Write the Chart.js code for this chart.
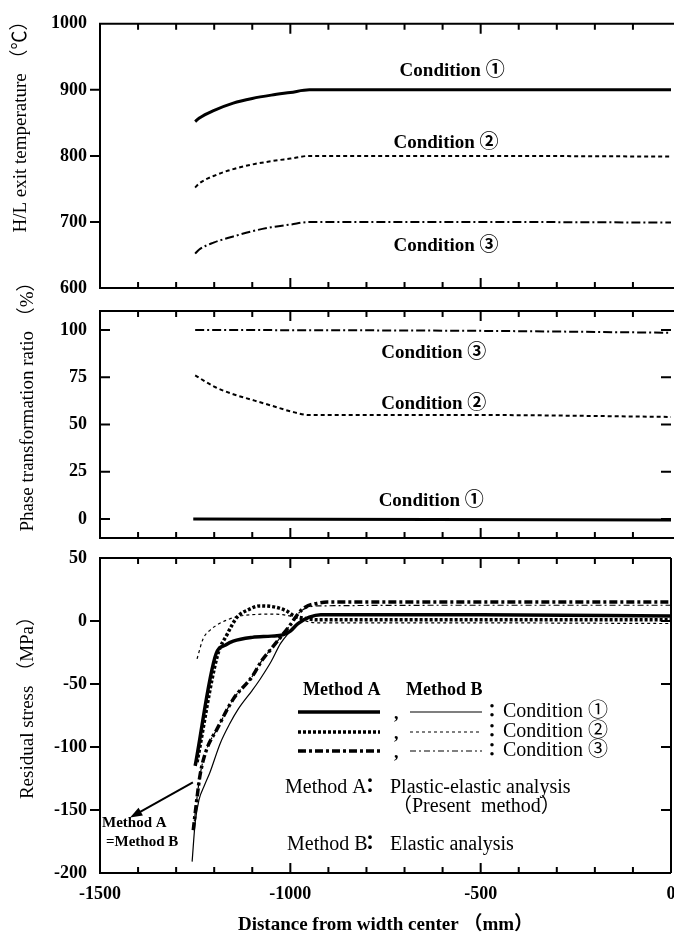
<!DOCTYPE html>
<html>
<head>
<meta charset="utf-8">
<script src="https://cdn.jsdelivr.net/npm/chart.js@4.4.1/dist/chart.umd.min.js"></script>
<style>
html, body { margin: 0; padding: 0; background: #fff; }
#wrap { position: relative; width: 674px; height: 940px; }
#wrap canvas { position: absolute; left: 0; top: 0; }
</style>
</head>
<body>
<div id="wrap">
<canvas id="graficaTemp" width="674" height="940"></canvas>
<canvas id="graficaFase" width="674" height="940"></canvas>
<canvas id="graficaTension" width="674" height="940"></canvas>
</div>
<script>
// ===============================
// DATOS
// ===============================

const xTickLabels = [-1500, -1000, -500, 0];

// H/L exit temperature
const tempTicks = [600, 700, 800, 900, 1000];
const tempX = [-1250, -1240, -1200, -1150, -1100, -1050, -1000, -950, -500, 0];
const tempCond1 = [852, 857, 869, 880, 887, 892, 896, 900, 900, 900];
const tempCond2 = [752, 758, 770, 780, 787, 792, 796, 800, 800, 799];
const tempCond3 = [652, 658, 669, 678, 686, 692, 696, 700, 700, 699];

// Phase transformation ratio
const faseTicks = [0, 25, 50, 75, 100];
const faseX1 = [-1255, 0];
const faseCond1 = [0, -0.5];
const faseX2 = [-1250, -1200, -1150, -1100, -1050, -1000, -950, -500, 0];
const faseCond2 = [76, 70, 66, 63, 60, 57, 55, 55, 54];
const faseX3 = [-1250, -500, 0];
const faseCond3 = [100, 99.5, 98.5];

// Residual stress
const tensionTicks = [-200, -150, -100, -50, 0, 50];
const aCond1X = [-1250, -1195, -1170, -1150, -1100, -1050, -1020, -1000, -980, -950, -920, -500, 0];
const aCond1 = [-115, -26, -19, -16, -13, -12, -11, -8, -2, 3, 5, 5, 4];
const aCond2X = [-1245, -1192, -1165, -1140, -1110, -1080, -1040, -1010, -990, -960, -930, -500, 0];
const aCond2 = [-112, -28, -10, 3, 9, 12, 11, 8, 4, 2, 1, 1, 1];
const aCond3X = [-1255, -1245, -1237, -1220, -1193, -1150, -1100, -1074, -1050, -1026, -1000, -979, -961, -930, -903, -500, 0];
const aCond3 = [-166, -140, -122, -102, -86, -62, -44, -31, -22, -13, -3, 6, 11, 14, 15, 15, 15];
const bCond1X = [-1258, -1250, -1240, -1225, -1211, -1184, -1160, -1137, -1100, -1079, -1050, -1026, -1000, -982, -955, -920, -500, 0];
const bCond1 = [-191, -160, -142, -130, -120, -97, -82, -70, -55, -46, -32, -18, -8, -2, 3, 5, 5, 4];
const bCond2X = [-1245, -1229, -1210, -1192, -1165, -1140, -1100, -1050, -1020, -990, -960, -930, -500, 0];
const bCond2 = [-30, -14, -7, -3, 1, 3.5, 5, 5.5, 5, 3, 0, -1.5, -1.5, -2];
const bCond3X = [-1255, -1245, -1237, -1220, -1193, -1150, -1100, -1074, -1050, -1026, -1000, -979, -960, -930, -500, 0];
const bCond3 = [-166, -140, -122, -102, -86, -62, -44, -31, -22, -13, -3, 6, 10, 12, 12.5, 12.5];


// ===============================
// ESTILOS
// ===============================

const SERIF = "'Liberation Serif', 'Noto Sans CJK JP', serif";

Chart.defaults.font.family = SERIF;
Chart.defaults.color = "#000";

function linea(xs, ys, estilo) {

    return Object.assign({
        data: xs.map((x, i) => ({ x: x, y: ys[i] })),
        borderColor: "#000",
        pointRadius: 0,
        fill: false,
        cubicInterpolationMode: "monotone"
    }, estilo);

}

const SOLIDA = { borderWidth: 3 };
const PUNTOS = { borderWidth: 2, borderDash: [4, 3] };
const RAYAPUNTO = { borderWidth: 2, borderDash: [9, 3, 2, 3] };

const A_SOLIDA = { borderWidth: 3.5 };
const A_PUNTOS = { borderWidth: 3.5, borderDash: [3, 2] };
const A_RAYAPUNTO = { borderWidth: 3.5, borderDash: [8, 3, 3, 3] };
const B_SOLIDA = { borderWidth: 1.2 };
const B_PUNTOS = { borderWidth: 1.2, borderDash: [3, 3] };
const B_RAYAPUNTO = { borderWidth: 1.2, borderDash: [6, 3, 2, 3] };


// ===============================
// PLUGIN: MARCO, TICKS Y TEXTOS
// ===============================

const marcoPlugin = {

    id: "marco",

    afterDraw(chart, args, opts) {

        const { ctx, chartArea: a, scales } = chart;
        const x = scales.x, y = scales.y;

        ctx.save();
        ctx.strokeStyle = "#000";
        ctx.fillStyle = "#000";
        ctx.lineWidth = 2;
        ctx.setLineDash([]);

        // marco
        const derecha = opts.borde ? a.right : chart.width;
        ctx.beginPath();
        ctx.moveTo(derecha, a.top);
        ctx.lineTo(a.left, a.top);
        ctx.lineTo(a.left, a.bottom);
        ctx.lineTo(derecha, a.bottom);
        if (opts.borde) {
            ctx.moveTo(a.right, a.top);
            ctx.lineTo(a.right, a.bottom);
        }

        // ticks del eje x (hacia dentro)
        for (let v = -1400; v < 0; v += 100) {
            const px = x.getPixelForValue(v);
            const largo = v % 500 === 0 ? 10 : 6;
            ctx.moveTo(px, a.top);
            ctx.lineTo(px, a.top + largo);
            ctx.moveTo(px, a.bottom);
            ctx.lineTo(px, a.bottom - largo);
        }

        // ticks del eje y
        y.ticks.forEach(t => {
            const py = y.getPixelForValue(t.value);
            if (py <= a.top + 1 || py >= a.bottom - 1) return;
            const dir = opts.fuera ? -1 : 1;
            ctx.moveTo(a.left, py);
            ctx.lineTo(a.left + dir * 10, py);
            if (opts.ticksDerecha) {
                ctx.moveTo(a.right, py);
                ctx.lineTo(a.right - 10, py);
            }
        });
        ctx.stroke();

        // titulo del eje y
        ctx.save();
        ctx.translate(opts.tituloY.px, opts.tituloY.py);
        ctx.rotate(-Math.PI / 2);
        ctx.font = "19px " + SERIF;
        ctx.textAlign = "center";
        ctx.textBaseline = "middle";
        ctx.fillText(opts.tituloY.texto, 0, 0);
        ctx.restore();

        // etiquetas de condiciones
        ctx.font = "bold 19px " + SERIF;
        ctx.textAlign = "center";
        ctx.textBaseline = "middle";
        (opts.textos || []).forEach(t => {
            ctx.fillText(t.texto, x.getPixelForValue(t.x), y.getPixelForValue(t.y));
        });

        if (opts.leyenda) dibujarLeyenda(chart);

        ctx.restore();

    }

};


function dibujarLeyenda(chart) {

    const ctx = chart.ctx;
    const ds = chart.data.datasets;
    const x = chart.scales.x, y = chart.scales.y;

    ctx.textBaseline = "middle";
    ctx.textAlign = "left";
    ctx.font = "bold 18px " + SERIF;
    ctx.fillText("Method A", 303, 690);
    ctx.fillText("Method B", 406, 690);

    const filas = [712, 732, 751];
    const nombres = ["Condition ①", "Condition ②", "Condition ③"];

    filas.forEach((fy, i) => {

        [[ds[i], 298, 380], [ds[i + 3], 410, 482]].forEach(([d, x0, x1]) => {
            ctx.beginPath();
            ctx.lineWidth = d.borderWidth;
            ctx.setLineDash(d.borderDash || []);
            ctx.moveTo(x0, fy);
            ctx.lineTo(x1, fy);
            ctx.stroke();
        });

        ctx.setLineDash([]);
        ctx.font = "bold 18px " + SERIF;
        ctx.fillText(",", 394, fy + 2);
        ctx.fillText("：", 483, fy);
        ctx.font = "20px " + SERIF;
        ctx.fillText(nombres[i], 503, fy);

    });

    ctx.font = "20px " + SERIF;
    ctx.fillText("Method A", 285, 788);
    ctx.fillText("Plastic-elastic analysis", 390, 788);
    ctx.fillText("（Present  method）", 392, 807);
    ctx.fillText("Method B", 287, 845);
    ctx.fillText("Elastic analysis", 390, 845);
    ctx.font = "bold 20px " + SERIF;
    ctx.fillText("：", 360, 788);
    ctx.fillText("：", 360, 845);

    // flecha Method A = Method B
    const x0 = x.getPixelForValue(-1256), y0 = y.getPixelForValue(-128);
    const x1 = x.getPixelForValue(-1421), y1 = y.getPixelForValue(-156);
    const ang = Math.atan2(y1 - y0, x1 - x0);
    ctx.lineWidth = 2;
    ctx.beginPath();
    ctx.moveTo(x0, y0);
    ctx.lineTo(x1 - 8 * Math.cos(ang), y1 - 8 * Math.sin(ang));
    ctx.stroke();
    ctx.beginPath();
    ctx.moveTo(x1, y1);
    ctx.lineTo(x1 - 13 * Math.cos(ang - 0.35), y1 - 13 * Math.sin(ang - 0.35));
    ctx.lineTo(x1 - 13 * Math.cos(ang + 0.35), y1 - 13 * Math.sin(ang + 0.35));
    ctx.closePath();
    ctx.fill();

    ctx.font = "bold 15px " + SERIF;
    ctx.fillText("Method A", 102, 823);
    ctx.fillText("=Method B", 106, 842);

}


// ===============================
// OPCIONES COMUNES
// ===============================

function ejeY(min, max, ticks) {

    return {
        min: min,
        max: max,
        afterFit: s => { s.width = 100; },
        afterBuildTicks: s => { s.ticks = ticks.map(v => ({ value: v })); },
        grid: { display: false, drawTicks: false },
        border: { display: false },
        ticks: {
            font: { size: 18, weight: "bold" },
            padding: 13,
            callback: v => String(v)
        }
    };

}

function ejeXOculto() {

    return { type: "linear", min: -1500, max: 0, display: false };

}

const basicas = {
    responsive: false,
    animation: false,
    events: [],
    plugins: { legend: { display: false }, tooltip: { enabled: false } }
};


// ===============================
// GRÁFICA DE TEMPERATURA
// ===============================

new Chart(document.getElementById("graficaTemp"), {

    type: "line",

    data: {
        datasets: [
            linea(tempX, tempCond1, SOLIDA),
            linea(tempX, tempCond2, PUNTOS),
            linea(tempX, tempCond3, RAYAPUNTO)
        ]
    },

    options: Object.assign({}, basicas, {
        layout: { padding: { top: 14, bottom: 652, left: 0, right: 3 } },
        scales: {
            x: ejeXOculto(),
            y: ejeY(600, 1000, tempTicks)
        },
        plugins: Object.assign({}, basicas.plugins, {
            marco: {
                borde: false,
                fuera: true,
                ticksDerecha: false,
                tituloY: { texto: "H/L exit temperature （℃）", px: 21, py: 122 },
                textos: [
                    { texto: "Condition ①", x: -575, y: 928 },
                    { texto: "Condition ②", x: -591, y: 819 },
                    { texto: "Condition ③", x: -591, y: 663 }
                ]
            }
        })
    }),

    plugins: [marcoPlugin]

});


// ===============================
// GRÁFICA DE TRANSFORMACIÓN DE FASE
// ===============================

new Chart(document.getElementById("graficaFase"), {

    type: "line",

    data: {
        datasets: [
            linea(faseX1, faseCond1, SOLIDA),
            linea(faseX2, faseCond2, PUNTOS),
            linea(faseX3, faseCond3, RAYAPUNTO)
        ]
    },

    options: Object.assign({}, basicas, {
        layout: { padding: { top: 311, bottom: 402, left: 0, right: 3 } },
        scales: {
            x: ejeXOculto(),
            y: ejeY(-10, 110, faseTicks)
        },
        plugins: Object.assign({}, basicas.plugins, {
            marco: {
                borde: false,
                fuera: false,
                ticksDerecha: true,
                tituloY: { texto: "Phase transformation ratio （%）", px: 28, py: 402 },
                textos: [
                    { texto: "Condition ③", x: -623, y: 88 },
                    { texto: "Condition ②", x: -623, y: 61 },
                    { texto: "Condition ①", x: -630, y: 9.5 }
                ]
            }
        })
    }),

    plugins: [marcoPlugin]

});


// ===============================
// GRÁFICA DE TENSIÓN RESIDUAL
// ===============================

new Chart(document.getElementById("graficaTension"), {

    type: "line",

    data: {
        datasets: [
            linea(aCond1X, aCond1, A_SOLIDA),
            linea(aCond2X, aCond2, A_PUNTOS),
            linea(aCond3X, aCond3, A_RAYAPUNTO),
            linea(bCond1X, bCond1, B_SOLIDA),
            linea(bCond2X, bCond2, B_PUNTOS),
            linea(bCond3X, bCond3, B_RAYAPUNTO)
        ]
    },

    options: Object.assign({}, basicas, {
        layout: { padding: { top: 558, bottom: 0, left: 0, right: 3 } },
        scales: {
            x: {
                type: "linear",
                min: -1500,
                max: 0,
                afterFit: s => {
                    s.height = 67;
                    s.paddingLeft = 0;
                    s.paddingRight = 0;
                },
                afterBuildTicks: s => { s.ticks = xTickLabels.map(v => ({ value: v })); },
                grid: { display: false, drawTicks: false },
                border: { display: false },
                ticks: {
                    font: { size: 18, weight: "bold" },
                    padding: 11,
                    maxRotation: 0,
                    callback: v => String(v)
                },
                title: {
                    display: true,
                    text: "Distance from width center （mm）",
                    font: { size: 19, weight: "bold" },
                    padding: { top: 0, bottom: 4 }
                }
            },
            y: ejeY(-200, 50, tensionTicks)
        },
        plugins: Object.assign({}, basicas.plugins, {
            marco: {
                borde: true,
                fuera: true,
                ticksDerecha: true,
                tituloY: { texto: "Residual stress （MPa）", px: 28, py: 703 },
                leyenda: true
            }
        })
    }),

    plugins: [marcoPlugin]

});
</script>
</body>
</html>
